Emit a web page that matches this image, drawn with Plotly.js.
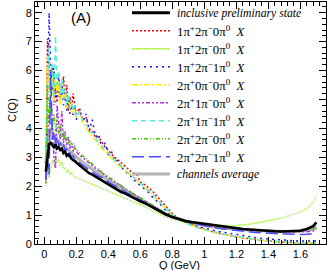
<!DOCTYPE html>
<html>
<head>
<meta charset="utf-8">
<script src="https://cdn.plot.ly/plotly-3.0.1.min.js"></script>
<style>html,body{margin:0;padding:0;background:#fff;}#chart{width:332px;height:270px;}</style>
</head>
<body>
<div id="chart"></div>
<script>
const Q = [0.01,0.02,0.03,0.04,0.05,0.06,0.07,0.08,0.09,0.10,0.11,0.12,0.13,0.14,0.15,0.16,0.17,0.18,0.19,0.20,
0.22,0.24,0.26,0.28,0.30,0.32,0.34,0.36,0.38,0.40,0.42,0.44,0.46,0.48,0.50,0.52,0.54,0.56,0.58,0.60,
0.64,0.68,0.72,0.76,0.80,0.84,0.88,0.92,0.96,1.00,1.04,1.08,1.12,1.16,1.20,1.24,1.28,1.32,1.36,1.40,
1.44,1.48,1.52,1.56,1.60,1.64,1.68,1.70];

const inclusive = [2.5,3.1,3.45,3.5,3.4,3.35,3.45,3.3,3.35,3.25,3.3,3.15,3.2,3.05,3.1,3.0,2.95,2.9,2.88,2.82,
2.72,2.62,2.55,2.45,2.4,2.33,2.27,2.2,2.12,2.06,2.0,1.93,1.86,1.8,1.76,1.7,1.64,1.6,1.53,1.48,
1.38,1.26,1.13,1.02,0.93,0.86,0.8,0.76,0.73,0.7,0.66,0.62,0.6,0.57,0.55,0.52,0.5,0.48,0.46,0.45,
0.44,0.43,0.44,0.43,0.46,0.52,0.62,0.75];

const ch_1p2m0z_a = [2.1,7.1,6.0,5.2,6.2,4.8,5.5,4.9,5.6,5.0,5.3,5.8,5.0,5.5,4.6,5.1,4.7,5.2,4.8,4.5,
4.7,4.3,4.4,4.0,3.9,3.7,3.7,3.5,3.35,3.25,3.1,3.0,2.9,2.8,2.7,2.6,2.52,2.45,2.38,2.15,
2.0,1.8,1.55,1.28,1.05,0.88,0.76,0.66,0.58,0.5,0.44,0.38,0.33,0.29,0.25,0.21,0.18,0.15,0.12,0.1,
0.08,0.06,0.05,0.04,0.03,0.03,0.02,0.02];

const ch_1p2m0z_b = [2.0,2.7,2.3,2.6,2.9,2.75,3.0,2.8,2.95,2.7,2.85,2.6,2.65,2.5,2.55,2.42,2.48,2.38,2.3,2.3,
2.25,2.2,2.15,2.1,2.05,2.0,1.95,1.92,1.88,1.83,1.78,1.73,1.68,1.63,1.58,1.53,1.48,1.45,1.4,1.36,
1.25,1.13,1.02,0.93,0.86,0.8,0.76,0.72,0.7,0.68,0.66,0.65,0.64,0.63,0.64,0.66,0.68,0.72,0.76,0.8,
0.85,0.9,0.96,1.02,1.1,1.22,1.45,1.65];

const ch_1p2m1z = [2.3,5.0,8.0,6.0,5.3,6.1,4.9,5.4,5.9,5.0,5.5,4.8,5.3,4.6,5.1,4.5,4.9,4.4,4.8,4.3,
4.6,4.2,4.5,3.9,4.3,3.7,3.8,3.3,3.5,3.1,3.2,2.85,2.9,2.6,2.6,2.4,2.35,2.2,2.15,2.0,
1.85,1.6,1.4,1.15,0.98,0.85,0.75,0.67,0.6,0.54,0.49,0.44,0.4,0.36,0.32,0.28,0.25,0.22,0.19,0.17,
0.15,0.13,0.12,0.11,0.1,0.1,0.09,0.1];

const ch_2p0m0z = [3.0,6.5,5.4,4.6,5.8,5.0,5.9,5.2,5.6,4.8,5.4,5.0,5.3,4.7,5.1,4.6,4.9,4.5,4.7,4.4,
4.5,4.2,4.0,3.85,3.7,3.6,3.45,3.3,3.2,3.1,2.95,2.85,2.75,2.65,2.55,2.45,2.4,2.3,2.2,2.1,
1.9,1.7,1.45,1.2,1.0,0.85,0.73,0.64,0.56,0.49,0.43,0.38,0.33,0.29,0.25,0.21,0.18,0.15,0.12,0.1,
0.08,0.06,0.05,0.04,0.04,0.03,0.03,0.03];

const ch_2p1m0z = [2.4,3.8,4.5,5.0,4.3,3.0,2.6,4.8,4.2,3.6,4.6,3.5,3.9,3.4,3.7,3.3,3.5,3.2,3.4,3.2,
3.05,3.0,2.9,2.8,2.7,2.62,2.55,2.45,2.38,2.3,2.22,2.15,2.08,2.0,1.93,1.86,1.78,1.72,1.65,1.58,
1.45,1.3,1.17,1.05,0.95,0.87,0.8,0.74,0.69,0.65,0.61,0.58,0.55,0.53,0.51,0.49,0.47,0.46,0.44,0.43,
0.42,0.42,0.41,0.4,0.41,0.42,0.45,0.5];

const ch_2p1m1z = [2.6,5.6,6.8,5.0,6.2,4.9,7.2,5.5,6.0,5.2,5.7,5.0,5.4,4.8,5.2,4.7,5.0,4.6,4.8,4.4,
4.6,4.3,4.2,3.9,3.85,3.65,3.5,3.4,3.25,3.15,3.0,2.9,2.8,2.7,2.6,2.5,2.4,2.32,2.22,2.12,
1.92,1.7,1.45,1.22,1.02,0.86,0.74,0.64,0.56,0.5,0.44,0.39,0.34,0.3,0.26,0.22,0.19,0.16,0.13,0.11,
0.09,0.07,0.06,0.05,0.04,0.04,0.03,0.03];

const ch_2p2m0z = [2.6,5.5,4.2,4.8,4.0,4.5,3.9,4.3,3.8,4.1,3.7,3.9,3.6,3.7,3.5,3.55,3.4,3.45,3.3,3.3,
3.15,3.05,2.95,2.85,2.75,2.66,2.57,2.48,2.4,2.32,2.24,2.16,2.08,2.01,1.94,1.87,1.8,1.73,1.66,1.6,
1.46,1.32,1.18,1.06,0.96,0.88,0.81,0.75,0.7,0.66,0.62,0.59,0.56,0.54,0.52,0.5,0.49,0.48,0.47,0.46,
0.46,0.45,0.45,0.45,0.46,0.48,0.52,0.56];

const ch_2p2m1z = [2.2,2.9,2.4,6.0,3.6,3.9,3.5,3.7,3.4,3.5,3.35,3.45,3.2,3.3,3.1,3.15,3.0,3.05,2.95,2.9,
2.8,2.72,2.65,2.55,2.5,2.42,2.35,2.3,2.22,2.15,2.08,2.02,1.95,1.88,1.82,1.76,1.7,1.64,1.58,1.52,
1.4,1.28,1.15,1.04,0.94,0.86,0.79,0.73,0.68,0.63,0.59,0.55,0.52,0.49,0.46,0.44,0.42,0.4,0.38,0.37,
0.36,0.35,0.34,0.33,0.33,0.34,0.36,0.4];

const average = [2.8,3.3,3.9,4.0,3.8,3.7,3.75,3.6,3.55,3.5,3.45,3.4,3.35,3.3,3.25,3.2,3.15,3.1,3.05,3.0,
2.9,2.82,2.74,2.66,2.58,2.5,2.43,2.36,2.28,2.21,2.14,2.06,1.99,1.92,1.86,1.79,1.72,1.66,1.6,1.54,
1.41,1.28,1.15,1.03,0.93,0.85,0.78,0.72,0.68,0.64,0.6,0.57,0.55,0.53,0.51,0.49,0.48,0.47,0.46,0.45,
0.44,0.44,0.43,0.44,0.45,0.48,0.52,0.58];

const names = [
  '<i>inclusive preliminary state</i>',
  '1π<sup>+</sup>2π<sup>−</sup>0π<sup>0</sup>  <i>X</i>',
  '1π<sup>+</sup>2π<sup>−</sup>0π<sup>0</sup>  <i>X</i>',
  '1π<sup>+</sup>2π<sup>−</sup>1π<sup>0</sup>  <i>X</i>',
  '2π<sup>+</sup>0π<sup>−</sup>0π<sup>0</sup>  <i>X</i>',
  '2π<sup>+</sup>1π<sup>−</sup>0π<sup>0</sup>  <i>X</i>',
  '2π<sup>+</sup>1π<sup>−</sup>1π<sup>0</sup>  <i>X</i>',
  '2π<sup>+</sup>2π<sup>−</sup>0π<sup>0</sup>  <i>X</i>',
  '2π<sup>+</sup>2π<sup>−</sup>1π<sup>0</sup>  <i>X</i>',
  '<i>channels average</i>'
];
const series = [inclusive, ch_1p2m0z_a, ch_1p2m0z_b, ch_1p2m1z, ch_2p0m0z, ch_2p1m0z, ch_2p1m1z, ch_2p2m0z, ch_2p2m1z, average];
const colors = ['#000000','#ff0000','#99ee33','#1010ff','#ffee00','#b030e0','#55eedd','#44cc00','#4a4aff','#b4b4b4'];
const dashes = ['solid','2px,2px','1px,1px','2px,4px','6px,2px,2px,2px','4px,2px,2px,2px,2px,2px','5px,4px','4px,2px,1px,2px,1px,2px','12px,5px','solid'];
const widths = [2.6,1.5,1.5,1.5,1.5,1.5,1.5,1.5,1.5,3.2];

// plot-area geometry (pixels)
const W = 332, H = 270, ML = 35, MR = 6, MT = 2, MB = 26;
const PW = W - ML - MR, PH = H - MT - MB;
const px = v => (v - ML) / PW;
const py = v => (H - MB - v) / PH;

const drawOrder = [9,1,2,3,4,5,6,7,8,0];
const traces = drawOrder.map(i => ({
  x: Q, y: series[i], type: 'scatter', mode: 'lines', name: names[i],
  showlegend: false,
  line: {color: colors[i], width: widths[i], dash: dashes[i]}
}));

// hand-drawn legend (ROOT-like compact rows)
const shapes = [];
const annotations = [];
names.forEach((nm, i) => {
  const yy = i === 9 ? 174 : 12.7 + 18 * i;
  shapes.push({type: 'line', xref: 'paper', yref: 'paper', x0: px(132), x1: px(170), y0: py(yy), y1: py(yy),
    line: {color: colors[i], width: i === 0 || i === 9 ? 3 : 1.6, dash: dashes[i]}});
  annotations.push({text: nm, xref: 'paper', yref: 'paper', x: px(176), y: py(yy + 0.5), xanchor: 'left', yanchor: 'middle',
    showarrow: false, borderpad: 0,
    font: {family: 'Liberation Serif, Times New Roman, serif', size: (i === 0 || i === 9) ? 11.7 : 12.8, color: '#000'}});
});
annotations.push({text: 'C(Q)', xref: 'paper', yref: 'paper', x: px(12), y: py(110), textangle: -90, showarrow: false,
  xanchor: 'center', yanchor: 'middle', font: {family: 'Liberation Sans, Arial, sans-serif', size: 11, color: '#000'}});
annotations.push({text: 'Q (GeV)', xref: 'paper', yref: 'paper', x: px(179), y: py(265), showarrow: false,
  xanchor: 'center', yanchor: 'middle', borderpad: 0, font: {family: 'Liberation Sans, Arial, sans-serif', size: 11, color: '#000'}});
annotations.push({text: '(A)', xref: 'paper', yref: 'paper', x: px(81), y: py(17), showarrow: false,
  xanchor: 'center', yanchor: 'middle', font: {family: 'Liberation Sans, Arial, sans-serif', size: 15, color: '#000'}});

const axisCommon = {
  showline: true, linecolor: '#000', linewidth: 1, mirror: 'ticks',
  ticks: 'inside', ticklen: 7, tickcolor: '#000', showgrid: false, zeroline: false,
  tickfont: {family: 'Liberation Sans, Arial, sans-serif', size: 11, color: '#000'}
};

const layout = {
  width: W, height: H,
  margin: {l: ML, r: MR, t: MT, b: MB},
  paper_bgcolor: '#fff', plot_bgcolor: '#fff',
  showlegend: false,
  xaxis: Object.assign({}, axisCommon, {
    range: [-0.058, 1.76], dtick: 0.2, tick0: 0, ticklabelstandoff: 0,
    minor: {ticks: 'inside', ticklen: 4, dtick: 0.04, tick0: 0, tickcolor: '#000', showgrid: false}
  }),
  yaxis: Object.assign({}, axisCommon, {
    range: [0, 8.37], dtick: 1, tick0: 0,
    minor: {ticks: 'inside', ticklen: 4, dtick: 0.2, tick0: 0, tickcolor: '#000', showgrid: false}
  }),
  shapes: shapes,
  annotations: annotations
};

Plotly.newPlot('chart', traces, layout, {displayModeBar: false, staticPlot: true});
</script>
</body>
</html>
